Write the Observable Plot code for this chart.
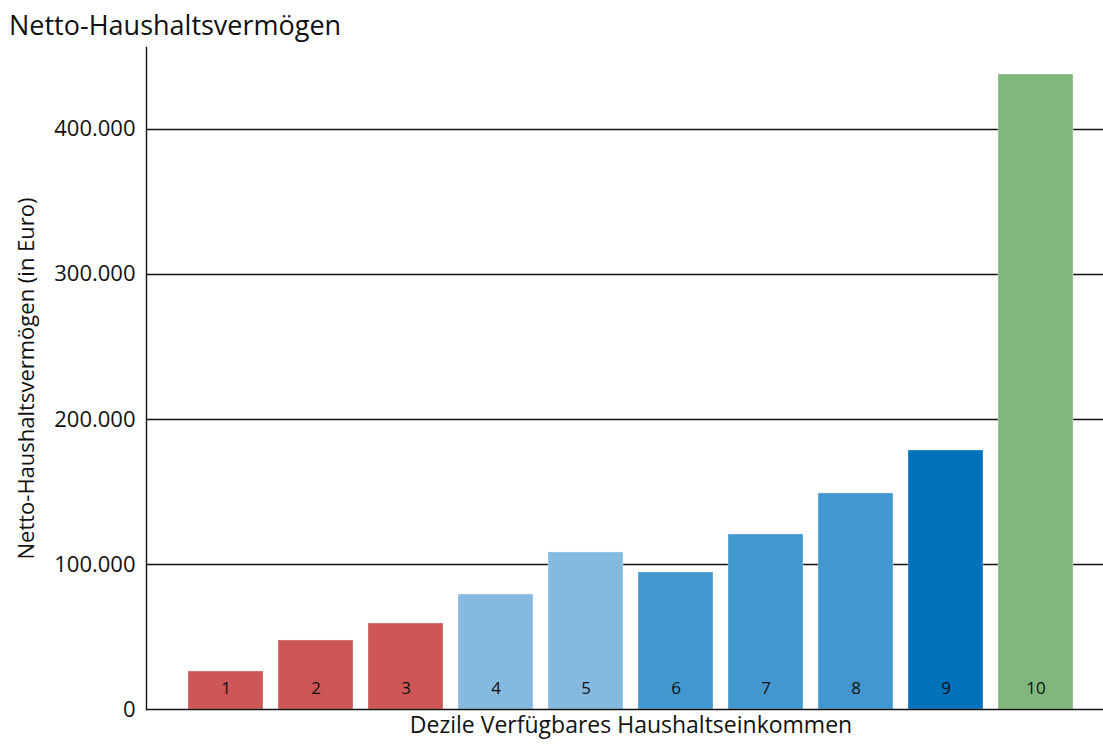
<!DOCTYPE html>
<html>
<head>
<meta charset="utf-8">
<script src="https://cdn.jsdelivr.net/npm/d3@7"></script>
<script src="https://cdn.jsdelivr.net/npm/@observablehq/plot@0.6"></script>
<style>
  body { margin: 0; background: #fff; font-family: "Open Sans", sans-serif; }
  #title { height: 40px; line-height: 50px; padding-left: 9px; font-size: 27px; color: #111; white-space: nowrap; }
  #chart svg { display: block; }
</style>
</head>
<body>
<div id="title">Netto-Haushaltsvermögen</div>
<div id="chart"></div>
<script>
const deciles = ["1","2","3","4","5","6","7","8","9","10"];
const values = [26200, 47600, 59300, 79300, 108300, 94500, 120700, 149000, 178600, 437900];
const groups = ["a","a","a","b","b","c","c","c","d","e"];
const groupColors = ["#cd5656", "#85b9e0", "#4297ce", "#0071bb", "#80b77c"];
const yTicks = [0, 100000, 200000, 300000, 400000];
const yLabel = "Netto-Haushaltsvermögen (in Euro)";
const xLabel = "Dezile Verfügbares Haushaltseinkommen";

const data = deciles.map((d, i) => ({decile: d, value: values[i], group: groups[i]}));
const fmt = v => d3.format(",")(v).replace(/,/g, ".");

const chart = Plot.plot({
  width: 1103,
  height: 705,
  marginLeft: 146,
  marginRight: 0,
  marginTop: 7,
  marginBottom: 36,
  style: {fontFamily: "'Open Sans', sans-serif", color: "#111", background: "#fff"},
  x: {domain: deciles, range: [173, 1088], paddingInner: 1/6, paddingOuter: 1/6, align: 0.5, round: false, axis: null},
  y: {domain: [0, 456500], axis: null},
  color: {domain: ["a","b","c","d","e"], range: groupColors},
  marks: [
    Plot.ruleY(yTicks.filter(t => t > 0), {stroke: "#111", strokeWidth: 1.4}),
    Plot.barY(data, {x: "decile", y: "value", fill: "group", stroke: "white", strokeOpacity: 0.35, strokeWidth: 1}),
    Plot.ruleY([0], {stroke: "#111", strokeWidth: 1.6}),
    Plot.frame({anchor: "left", stroke: "#111", strokeWidth: 1.4}),
    Plot.axisY({ticks: yTicks, tickSize: 0, tickPadding: 11, tickFormat: fmt, fontSize: 22, label: null}),
    Plot.text(data, {x: "decile", y: 0, text: "decile", dy: -21, fontSize: 17, fill: "#111"}),
    Plot.text([yLabel], {frameAnchor: "left", dx: -120, rotate: -90, fontSize: 22, fill: "#111", textAnchor: "middle"}),
    Plot.text([xLabel], {frameAnchor: "bottom", dx: 6, dy: 23, fontSize: 23, fill: "#111"})
  ]
});
document.getElementById("chart").appendChild(chart);
</script>
</body>
</html>
